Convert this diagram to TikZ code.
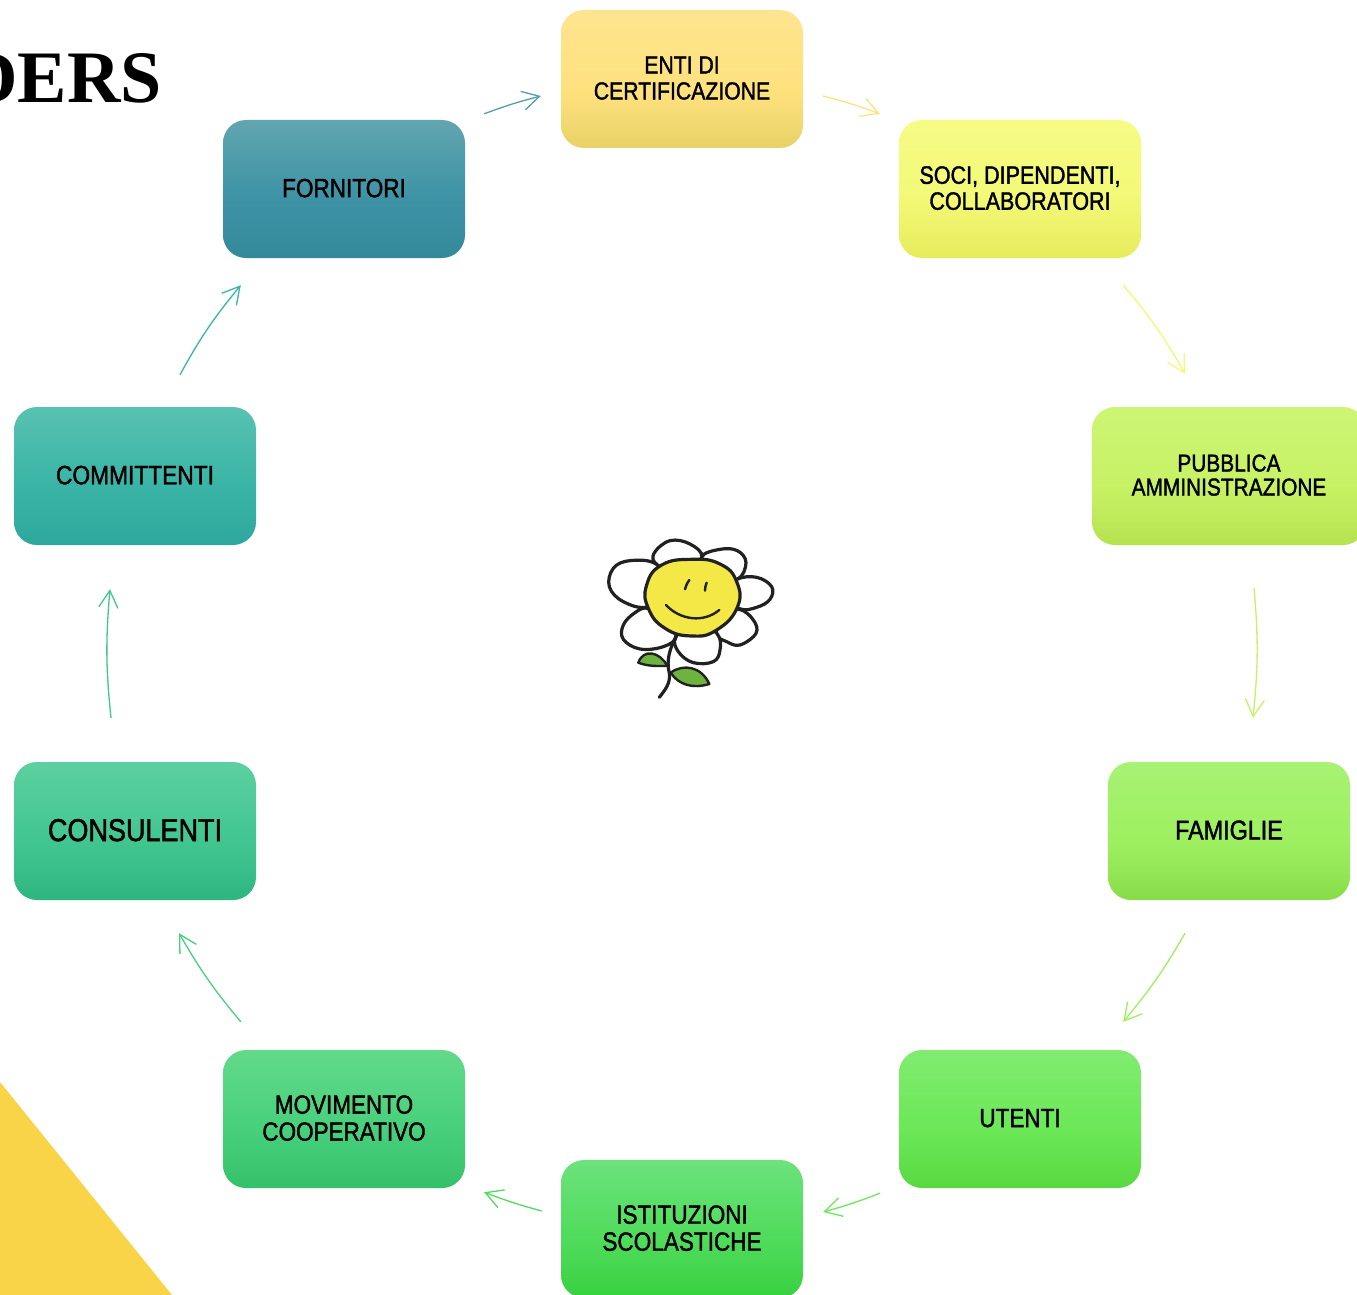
\documentclass[tikz,border=0pt]{standalone}
\usepackage{fontspec}
\usetikzlibrary{arrows.meta,calc,bending}
\setmainfont{Liberation Sans}
\newfontfamily\boxfont[FakeStretch=0.855,FakeBold=1.5]{Liberation Sans}
\newfontfamily\titlefont{Liberation Serif}
\newcommand\mkshade[4]{%
  \definecolor{#1t}{HTML}{#2}\definecolor{#1m}{HTML}{#3}\definecolor{#1b}{HTML}{#4}%
  \pgfdeclareverticalshading{shade#1}{100bp}{color(0bp)=(#1b); color(25bp)=(#1b); color(36bp)=(#1m!55!#1b); color(47bp)=(#1m); color(75bp)=(#1t); color(100bp)=(#1t)}}
\mkshade{a}{62A5B0}{3D93A5}{338899}
\mkshade{b}{FEE48F}{FEE27F}{E8D165}
\mkshade{c}{F6FB85}{F3F977}{E6EB5B}
\mkshade{d}{CDF574}{C7F265}{B6E24F}
\mkshade{e}{A8F274}{9EF060}{88DC48}
\mkshade{f}{80EC70}{6CE858}{58D840}
\mkshade{g}{6CE27C}{50DC5C}{38D040}
\mkshade{h}{62DA8A}{48D07C}{34C068}
\mkshade{i}{5CD0A0}{42C690}{2EB680}
\mkshade{j}{58C2B2}{3AB4A6}{2EA89C}
\tikzset{
  stakebox/.style={draw=none,rounded corners=23pt,minimum width=242pt,minimum height=138pt,
    inner sep=0pt,align=center,text=black,font=\boxfont\fontsize{25}{26}\selectfont,
    shading=shade#1,execute at end node={\rule[-2pt]{0pt}{0pt}}},
  fs/.style 2 args={font=\boxfont\fontsize{#1}{#2}\selectfont},
  cyc/.style={line width=1.3pt,-{Straight Barb[length=17pt,width=19pt,line width=1.3pt]}},
  ink/.style={draw=black!87,line width=3.2pt,line cap=round,line join=round},
  petal/.style={ink,fill=white},
}
\begin{document}
\begin{tikzpicture}[x=1pt,y=-1pt]
\useasboundingbox (0,0) rectangle (1357,1295);
\clip (0,0) rectangle (1357,1295);
\fill[fill=white] (0,0) rectangle (1357,1295);
\fill[fill={rgb,255:red,250;green,212;blue,72}] (0,1082) -- (172,1295) -- (0,1295) -- cycle;
\node[anchor=base east,inner sep=0pt,font=\titlefont\bfseries\fontsize{74}{74}\selectfont] (title) at (162,103) {DERS};

\node[stakebox=a,fs={26.4}{27}] (fornitori) at (344,189) {FORNITORI};
\node[stakebox=b,fs={24.8}{26}] (enti) at (682,79) {ENTI DI\\CERTIFICAZIONE};
\node[stakebox=c,fs={25.2}{26}] (soci) at (1020,189) {SOCI, DIPENDENTI,\\COLLABORATORI};
\node[stakebox=d,minimum width=274pt,fs={24.4}{24}] (pubblica) at (1229,476) {PUBBLICA\\AMMINISTRAZIONE};
\node[stakebox=e,fs={27.3}{27}] (famiglie) at (1229,831) {FAMIGLIE};
\node[stakebox=f,fs={26.3}{27}] (utenti) at (1020,1119) {UTENTI};
\node[stakebox=g,fs={26.4}{27}] (istituzioni) at (682,1229) {ISTITUZIONI\\SCOLASTICHE};
\node[stakebox=h,fs={26.3}{27}] (movimento) at (344,1119) {MOVIMENTO\\COOPERATIVO};
\node[stakebox=i,fs={31.6}{32}] (consulenti) at (135,831) {CONSULENTI};
\node[stakebox=j,fs={26.6}{27}] (committenti) at (135,476) {COMMITTENTI};

\draw[cyc,draw=am!90!white] ($(fornitori.north east)+(19,-6)$) to[bend left=3] ($(enti.west)+(-20,17)$);
\draw[cyc,draw=bm] ($(enti.east)+(20,17)$) to[bend left=3] ($(soci.north west)+(-19,-6)$);
\draw[cyc,draw=cm] ($(soci.south east)+(-18,27)$) to[bend left=5.5] ($(pubblica.north)+(-44,-33)$);
\draw[cyc,draw=dm] ($(pubblica.south)+(25,43)$) to[bend left=5.5] ($(famiglie.north)+(24,-44)$);
\draw[cyc,draw=em] ($(famiglie.south)+(-44,33)$) to[bend left=5] ($(utenti.north east)+(-18,-28)$);
\draw[cyc,draw=fm] ($(utenti.south west)+(-19,5)$) to[bend left=3] ($(istituzioni.east)+(20,-17)$);
\draw[cyc,draw=gm] ($(istituzioni.west)+(-19,-18)$) to[bend left=3] ($(movimento.south east)+(19,4)$);
\draw[cyc,draw=hm] ($(movimento.north west)+(18,-28)$) to[bend left=5] ($(consulenti.south)+(44,33)$);
\draw[cyc,draw=im] ($(consulenti.north)+(-24,-44)$) to[bend left=5.5] ($(committenti.south)+(-25,44)$);
\draw[cyc,draw=jm] ($(committenti.north)+(45,-32)$) to[bend left=5.5] ($(fornitori.south west)+(18,27)$);

\begin{scope}[shift={(580,520)},x=0.3333pt,y=-0.3333pt]
  \draw[petal] plot[smooth cycle,tension=0.65] coordinates {(232,135)(222,100)(270,62)(330,72)(365,112)(300,160)};
  \draw[petal] plot[smooth cycle,tension=0.65] coordinates {(365,112)(420,88)(472,92)(498,128)(472,178)(400,170)};
  \draw[petal] plot[smooth cycle,tension=0.65] coordinates {(470,178)(530,172)(575,200)(570,238)(530,262)(478,266)(420,220)};
  \draw[petal] plot[smooth cycle,tension=0.65] coordinates {(478,268)(520,300)(528,340)(480,375)(440,365)(410,342)(420,280)};
  \draw[petal] plot[smooth cycle,tension=0.65] coordinates {(412,342)(420,390)(400,425)(340,428)(295,395)(288,350)(350,300)};
  \draw[petal] plot[smooth cycle,tension=0.65] coordinates {(288,350)(250,380)(180,387)(130,358)(130,315)(165,278)(205,265)(260,300)};
  \draw[petal] plot[smooth cycle,tension=0.65] coordinates {(205,260)(130,245)(88,200)(100,145)(150,122)(228,132)(270,200)};
  \draw[ink,fill={rgb,255:red,243;green,232;blue,70}] plot[smooth cycle,tension=0.8] coordinates {(335,118)(420,132)(470,185)(472,262)(410,330)(335,348)(255,325)(205,265)(200,195)(245,135)};
  \draw[ink,line width=2.4pt] (328,180) to[bend right=10] (315,208);
  \draw[ink,line width=2.4pt] (380,188) to[bend right=10] (375,212);
  \draw[ink,line width=2.4pt] (258,255) .. controls (300,300) and (370,310) .. (418,270);
  \draw[ink] (288,350) .. controls (270,385) and (258,420) .. (268,460) .. controls (272,490) and (255,510) .. (238,532);
  \draw[ink,line width=2.4pt,fill={rgb,255:red,108;green,179;blue,63}] (262,438) .. controls (240,395) and (190,385) .. (175,428) .. controls (205,440) and (235,438) .. (262,438) -- cycle;
  \draw[ink,line width=2.4pt,fill={rgb,255:red,108;green,179;blue,63}] (272,458) .. controls (310,430) and (365,440) .. (388,492) .. controls (340,507) and (295,495) .. (272,458) -- cycle;
\end{scope}
\end{tikzpicture}
\end{document}
